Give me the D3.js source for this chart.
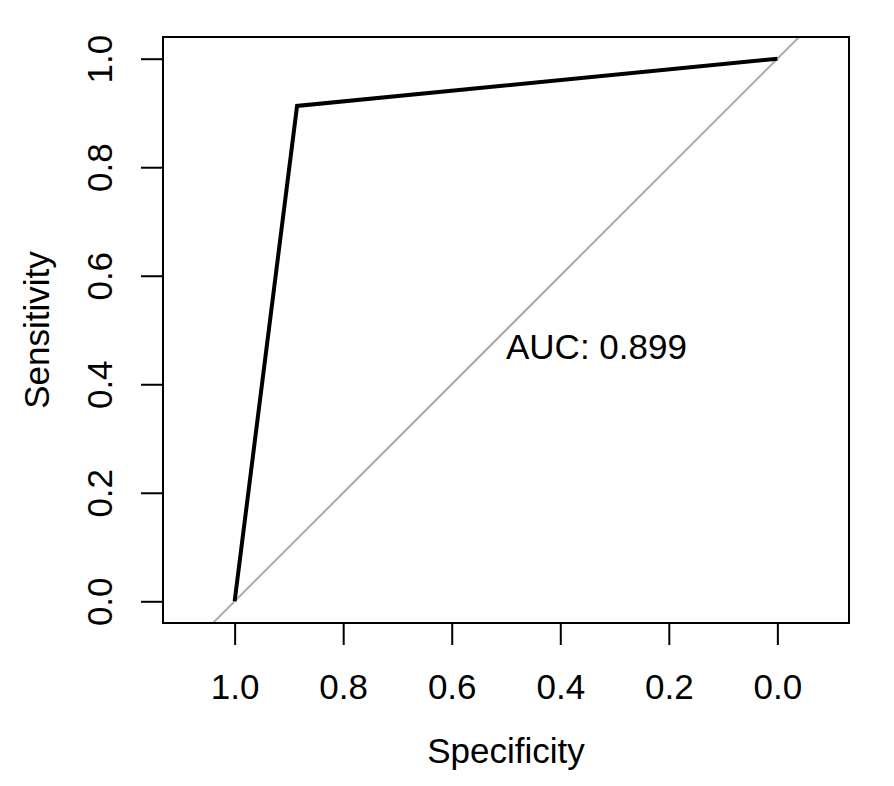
<!DOCTYPE html>
<html>
<head>
<meta charset="utf-8">
<script src="https://cdnjs.cloudflare.com/ajax/libs/d3/7.8.5/d3.min.js"></script>
<style>
  body { margin: 0; background: #fff; }
  text { font-family: "Liberation Sans", Arial, Helvetica, sans-serif; fill: #000; }
</style>
</head>
<body>
<script>
// ROC curve points (specificity, sensitivity)
var specificity = [1.0, 0.885, 0.0];
var sensitivity = [0.0, 0.913, 1.0];
var aucLabel = "AUC: 0.899";
var xTicks = [1.0, 0.8, 0.6, 0.4, 0.2, 0.0];
var yTicks = [0.0, 0.2, 0.4, 0.6, 0.8, 1.0];

var width = 894, height = 786;
var margin = {top: 37, right: 45, bottom: 163, left: 163};
var plotW = width - margin.left - margin.right,
    plotH = height - margin.top - margin.bottom;

var x = d3.scaleLinear()
    .domain([1.132, -0.132])
    .range([0, plotW]);

var y = d3.scaleLinear()
    .domain([-0.04, 1.04])
    .range([plotH, 0]);

var fmt = d3.format(".1f");

var svg = d3.select("body").append("svg")
    .attr("width", width)
    .attr("height", height)
  .append("g")
    .attr("transform", "translate(" + margin.left + "," + margin.top + ")");

svg.append("clipPath")
    .attr("id", "clip")
  .append("rect")
    .attr("width", plotW)
    .attr("height", plotH);

// identity line
svg.append("line")
    .attr("clip-path", "url(#clip)")
    .attr("x1", x(1.132)).attr("y1", y(1 - 1.132))
    .attr("x2", x(-0.132)).attr("y2", y(1 + 0.132))
    .attr("stroke", "#a9a9a9")
    .attr("stroke-width", 2);

var line = d3.line()
    .x(function(d, i) { return x(specificity[i]); })
    .y(function(d, i) { return y(sensitivity[i]); });

svg.append("path")
    .datum(specificity)
    .attr("d", line)
    .attr("fill", "none")
    .attr("stroke", "#000")
    .attr("stroke-width", 4)
    .attr("stroke-linejoin", "miter");

svg.append("text")
    .attr("x", x(0.5))
    .attr("y", y(0.5))
    .attr("dy", "0.83em")
    .attr("font-size", 35)
    .text(aucLabel);

// box
svg.append("rect")
    .attr("width", plotW)
    .attr("height", plotH)
    .attr("fill", "none")
    .attr("stroke", "#000")
    .attr("stroke-width", 2);

var xAxis = svg.append("g")
    .attr("class", "axis axis--x")
    .attr("transform", "translate(0," + plotH + ")")
    .call(d3.axisBottom(x).tickValues(xTicks).tickFormat(fmt).tickSize(22).tickPadding(29));

var yAxis = svg.append("g")
    .attr("class", "axis axis--y")
    .call(d3.axisLeft(y).tickValues(yTicks).tickFormat(fmt).tickSize(22));

[xAxis, yAxis].forEach(function(a) {
  a.select(".domain").remove();
  a.selectAll(".tick line").attr("stroke", "#000").attr("stroke-width", 2);
  a.selectAll(".tick text").attr("font-size", 35).attr("font-family", null);
});

yAxis.selectAll(".tick text")
    .attr("x", null).attr("dy", null)
    .attr("text-anchor", "middle")
    .attr("transform", "translate(-63,0) rotate(-90)")
    .attr("dy", "0.35em");

svg.append("text")
    .attr("x", plotW / 2)
    .attr("y", plotH + 140)
    .attr("text-anchor", "middle")
    .attr("font-size", 35)
    .text("Specificity");

svg.append("text")
    .attr("transform", "translate(-126," + (plotH / 2) + ") rotate(-90)")
    .attr("text-anchor", "middle")
    .attr("dy", "0.35em")
    .attr("font-size", 35)
    .text("Sensitivity");
</script>
</body>
</html>
